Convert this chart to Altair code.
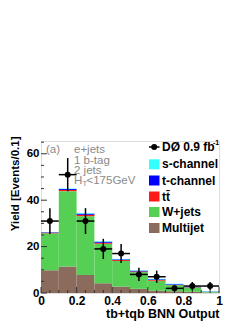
import altair as alt
import pandas as pd
import numpy as np

# ---- data ----
bin_lo = [0.0, 0.1, 0.2, 0.3, 0.4, 0.5, 0.6, 0.7, 0.8, 0.9]
multijet = [9.8, 11.4, 7.8, 4.2, 2.8, 1.8, 1.0, 0.8, 0.5, 0.2]
wjets = [15.9, 32.5, 25.3, 17.0, 11.0, 7.2, 4.3, 2.5, 1.9, 0.3]
ttbar = [0.3, 0.5, 0.6, 0.5, 0.4, 0.3, 0.3, 0.2, 0.1, 0.05]
tchan = [0.2, 0.4, 0.5, 0.4, 0.3, 0.3, 0.3, 0.3, 0.2, 0.1]
schan = [0.1, 0.2, 0.3, 0.2, 0.2, 0.2, 0.2, 0.2, 0.1, 0.15]
data_counts = [31, 51, 31, 19, 17, 8, 7, 2, 3, 3]

components = ["Multijet", "W+jets", "tt", "t-channel", "s-channel"]
comp_values = [multijet, wjets, ttbar, tchan, schan]
comp_colors = ["#8b6b5b", "#55d055", "#ff1a1a", "#0000ff", "#33ffff"]

y_major = [0, 20, 40, 60]
y_minor = list(range(0, 66, 5))
x_major = [0, 0.2, 0.4, 0.6, 0.8, 1.0]
x_minor = [round(i * 0.05, 2) for i in range(21)]

FONT = "Liberation Sans"
W, H = 178, 152

rows = []
for i, lo in enumerate(bin_lo):
    base = 0.0
    for name, vals in zip(components, comp_values):
        rows.append({"lo": lo, "hi": round(lo + 0.1, 2), "comp": name,
                     "y0": base, "y1": base + vals[i]})
        base += vals[i]
stack = pd.DataFrame(rows)

pts = pd.DataFrame({
    "lo": bin_lo,
    "hi": [round(b + 0.1, 2) for b in bin_lo],
    "c": [round(b + 0.05, 3) for b in bin_lo],
    "n": data_counts,
})
pts["elo"] = pts["n"] - np.sqrt(pts["n"])
pts["ehi"] = pts["n"] + np.sqrt(pts["n"])

xs = alt.Scale(domain=[0, 1], nice=False, zero=False)
ys = alt.Scale(domain=[0, 65.5], nice=False, zero=True)

xaxis = alt.Axis(values=x_major, format="~g", ticks=False, domain=False, grid=False,
                 labelFont=FONT, labelFontWeight="bold", labelFontSize=12,
                 labelColor="black", labelPadding=2, labelFlush=False, labelOverlap=False,
                 title="tb+tqb BNN Output", titleFont=FONT, titleFontWeight="bold",
                 titleFontSize=12.5, titleColor="black", titleAnchor="end",
                 titleAlign="right", titleX=W, titleY=24, titleBaseline="alphabetic")
yaxis = alt.Axis(values=y_major, ticks=False, domain=False, grid=False,
                 labelFont=FONT, labelFontWeight="bold", labelFontSize=11.5,
                 labelColor="black", labelPadding=2, labelFlush=False, labelOverlap=False,
                 title="Yield [Events/0.1]", titleFont=FONT, titleFontWeight="bold",
                 titleFontSize=11.5, titleColor="black", titleAngle=-90,
                 titleAlign="right", titleBaseline="middle", titleX=-26, titleY=-5)

XN = lambda f: alt.X(f, scale=xs, axis=xaxis, title="tb+tqb BNN Output")
YN = lambda f: alt.Y(f, scale=ys, axis=yaxis, title="Yield [Events/0.1]")

bars = alt.Chart(stack).mark_bar(stroke=None, binSpacing=0).encode(
    x=XN("lo:Q"),
    x2="hi:Q",
    y=YN("y0:Q"),
    y2="y1:Q",
    color=alt.Color("comp:N", scale=alt.Scale(domain=components, range=comp_colors), legend=None),
)

vbar = alt.Chart(pts).mark_rule(color="black", strokeWidth=1.5).encode(
    x=XN("c:Q"), y=YN("elo:Q"), y2="ehi:Q")
hbar = alt.Chart(pts).mark_rule(color="black", strokeWidth=1.5).encode(
    x=XN("lo:Q"), x2="hi:Q", y=YN("n:Q"))
dots = alt.Chart(pts).mark_circle(color="black", opacity=1, size=36).encode(
    x=XN("c:Q"), y=YN("n:Q"))

ymaj = alt.Chart(pd.DataFrame({"v": y_major})).mark_rule(color="#333").encode(
    y=YN("v:Q"), x=alt.value(0), x2=alt.value(6))
ymin = alt.Chart(pd.DataFrame({"v": [v for v in y_minor if v % 20]})).mark_rule(color="#333").encode(
    y=YN("v:Q"), x=alt.value(0), x2=alt.value(3))
xmaj = alt.Chart(pd.DataFrame({"v": x_major})).mark_rule(color="#333").encode(
    x=XN("v:Q"), y=alt.value(H), y2=alt.value(H - 6))
xmin = alt.Chart(pd.DataFrame({"v": [v for v in x_minor if round(v * 5, 6) % 1]})).mark_rule(color="#333").encode(
    x=XN("v:Q"), y=alt.value(H), y2=alt.value(H - 3))

grey = "#8a8a8a"
def txt(s, x, y, size=11.5, color=grey, weight="normal", align="left"):
    return alt.Chart(pd.DataFrame({"t": [s]})).mark_text(
        font=FONT, fontSize=size, color=color, fontWeight=weight, align=align,
        baseline="middle").encode(text="t:N", x=alt.value(x), y=alt.value(y))

ox, oy = 41, 141
notes = [
    txt("(a)", 46 - ox, 150 - oy),
    txt("e+jets", 74 - ox, 150 - oy),
    txt("1 b-tag", 74 - ox, 160.5 - oy),
    txt("2 jets", 74 - ox, 171 - oy),
    txt("H", 74 - ox, 180.5 - oy),
    txt("T", 82.4 - ox, 184 - oy, size=7.5),
    txt("<175GeV", 86.5 - ox, 180.5 - oy),
]

leg_names = ["s-channel", "t-channel", "tt̄", "W+jets", "Multijet"]
leg_cols = ["#33ffff", "#0000ff", "#ff1a1a", "#55d055", "#8b6b5b"]
leg_y = [164.3, 180.5, 196.5, 212, 228]
legend = []
for nm, col, yy in zip(leg_names, leg_cols, leg_y):
    legend.append(alt.Chart(pd.DataFrame({"a": [0]})).mark_rect(color=col).encode(
        x=alt.value(149 - ox), x2=alt.value(159.5 - ox),
        y=alt.value(yy - 5 - oy), y2=alt.value(yy + 5 - oy)))
    legend.append(txt(nm, 162 - ox, yy - oy, size=12, color="black", weight="bold"))
legend.append(alt.Chart(pd.DataFrame({"a": [0]})).mark_rule(color="black", strokeWidth=1.5).encode(
    x=alt.value(149 - ox), x2=alt.value(159.5 - ox), y=alt.value(147 - oy)))
legend.append(alt.Chart(pd.DataFrame({"a": [0]})).mark_circle(color="black", opacity=1, size=36).encode(
    x=alt.value(154.2 - ox), y=alt.value(147 - oy)))
legend.append(txt("DØ 0.9 fb", 162 - ox, 147 - oy, size=12, color="black", weight="bold"))
legend.append(txt("-1", 213 - ox, 142.5 - oy, size=7, color="black", weight="bold"))

chart = alt.layer(bars, ymaj, ymin, xmaj, xmin, hbar, vbar, dots, *notes, *legend).properties(
    width=W, height=H,
    padding={"left": 33, "top": 133, "right": 22, "bottom": 28},
    autosize=alt.AutoSizeParams(type="none"),
).configure_view(stroke="#555", strokeWidth=1).configure(background="white")

chart.save("out.html", embed_options={"renderer": "svg", "actions": False})
